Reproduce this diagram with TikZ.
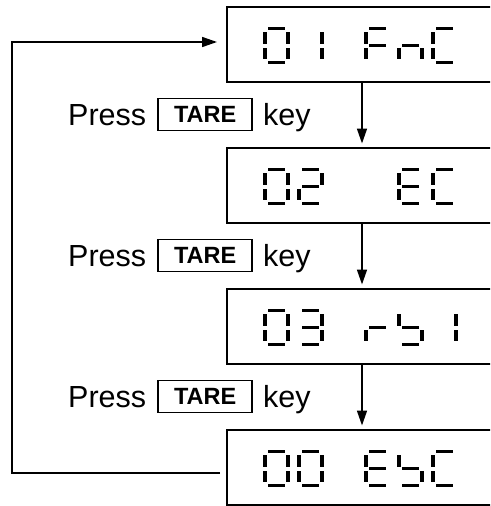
\documentclass[tikz,border=0pt]{standalone}
\usepackage{fontspec}
\setmainfont{Liberation Sans}
\usetikzlibrary{arrows.meta, positioning}

% segments of one display cell (origin top left, y downwards)
\tikzset{
  seg a/.style={insert path={(5,0) rectangle (22,3)}},
  seg b/.style={insert path={(23,5) rectangle (27,16.5)}},
  seg c/.style={insert path={(23,20.5) rectangle (27,32)}},
  seg d/.style={insert path={(5,33.5) rectangle (22,36.5)}},
  seg e/.style={insert path={(0,20.5) rectangle (4,32)}},
  seg f/.style={insert path={(0,5) rectangle (4,16.5)}},
  seg g/.style={insert path={(5,17) rectangle (22,20)}}
}
\newcommand{\lcdchar}[3]{%
  \foreach \s in #3 {\fill[shift={(#1.center)}, shift={(-99+33.5*#2,-17)}, seg \s];}}

\begin{document}
\begin{tikzpicture}[x=1pt, y=-1pt,
            lcdbox/.style={draw, line width=2pt, minimum width=270pt, minimum height=75pt, inner sep=0pt},
            presstext/.style={inner sep=0pt, font=\fontsize{30.5}{34}\selectfont},
            tarekey/.style={draw, line width=1.6pt, minimum width=94pt, minimum height=32pt, inner sep=0pt, font=\fontsize{23.5}{26}\selectfont\bfseries},
            arrow/.style={line width=1.6pt, -{Triangle[length=15pt, width=10pt]}}]
            \clip (0,0) rectangle (490,506);

            % Displays
            \node (fnc) [lcdbox] at (362,44) {};
            \node (ec) [lcdbox] at (362,185) {};
            \node (rbi) [lcdbox] at (362,326) {};
            \node (esc) [lcdbox] at (362,467) {};

            \foreach \i/\segs in {0/{a,b,c,d,e,f}, 1/{b,c}, 3/{a,f,g,e}, 4/{e,g,c}, 5/{a,f,e,d}} {\lcdchar{fnc}{\i}{\segs}}
            \foreach \i/\segs in {0/{a,b,c,d,e,f}, 1/{a,b,g,e,d}, 4/{a,f,g,e,d}, 5/{a,f,e,d}} {\lcdchar{ec}{\i}{\segs}}
            \foreach \i/\segs in {0/{a,b,c,d,e,f}, 1/{a,b,g,c,d}, 3/{e,g}, 4/{f,g,c,d}, 5/{b,c}} {\lcdchar{rbi}{\i}{\segs}}
            \foreach \i/\segs in {0/{a,b,c,d,e,f}, 1/{a,b,c,d,e,f}, 3/{a,f,g,e,d}, 4/{f,g,c,d}, 5/{a,f,e,d}} {\lcdchar{esc}{\i}{\segs}}

            % Key labels
            \node (press1) [presstext, anchor=base west] at (68,125) {Press};
            \node (tare1) [tarekey, right=11pt of press1] {TARE};
            \node (key1) [presstext, anchor=base west] at ([xshift=10pt]press1.base -| tare1.east) {key};
            \node (press2) [presstext, anchor=base west] at (68,266) {Press};
            \node (tare2) [tarekey, right=11pt of press2] {TARE};
            \node (key2) [presstext, anchor=base west] at ([xshift=10pt]press2.base -| tare2.east) {key};
            \node (press3) [presstext, anchor=base west] at (68,407) {Press};
            \node (tare3) [tarekey, right=11pt of press3] {TARE};
            \node (key3) [presstext, anchor=base west] at ([xshift=10pt]press3.base -| tare3.east) {key};

            % Arrows
            \coordinate (loop) at (12,250);
            \draw [arrow, shorten >=3pt] (fnc) -- (ec);
            \draw [arrow, shorten >=3pt] (ec) -- (rbi);
            \draw [arrow, shorten >=3pt] (rbi) -- (esc);
            \draw [arrow] ([xshift=-6pt, yshift=-6pt]esc.west) -| (loop) |- ([xshift=-9pt, yshift=2pt]fnc.west);
        \end{tikzpicture}
\end{document}
